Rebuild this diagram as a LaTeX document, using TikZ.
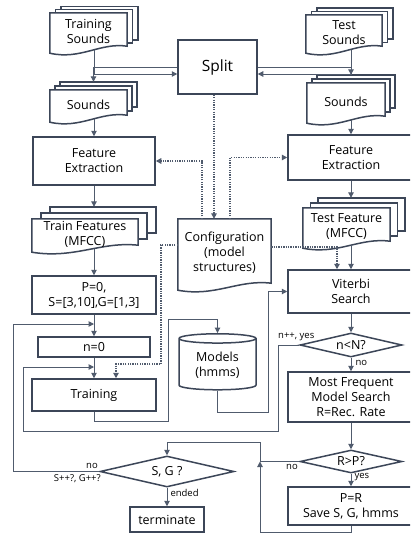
\documentclass[tikz,border=0pt]{standalone}
\usepackage{fontspec}
\setmainfont{Open Sans}
\usetikzlibrary{arrows.meta,calc,shapes.geometric}
\pgfdeclarelayer{background}
\pgfsetlayers{background,main}
\definecolor{bord}{RGB}{60,70,88}
\definecolor{lnk}{RGB}{80,91,109}
\newcommand{\docfront}[1]{%
  \filldraw[docline] (#1.north west) -- (#1.north east) -- ($(#1.south east)+(0,-4)$) .. controls ($(#1.south east)!0.35!(#1.south west)+(0,-8)$) and ($(#1.south west)!0.4!(#1.south east)+(0,10)$) .. ($(#1.south west)+(0,3)$) -- cycle;}
\newcommand{\mdoc}[3]{%
  \begin{pgfonlayer}{background}
    \foreach \k in {2,1}
      \filldraw[docline] ($(#1.north west)+(\k*#2,-\k*#3)$) rectangle ($(#1.south east)+(\k*#2,-\k*#3-4)$);
    \docfront{#1}
  \end{pgfonlayer}
  \coordinate (#1 top) at ($(#1.north)+(#2,-2*#3)$);}
\begin{document}
\begin{tikzpicture}[x=1pt,y=1pt,yscale=-1,
  font=\fontsize{12.5}{15}\selectfont,
  box/.style={draw=bord, line width=1.5pt, fill=white, inner sep=1pt, align=center},
  docn/.style={inner sep=1pt, align=center},
  docline/.style={draw=bord, line width=1.5pt, fill=white},
  dia/.style={diamond, draw=bord, line width=1.5pt, fill=white, inner sep=0pt, aspect=4},
  cyl/.style={cylinder, shape border rotate=90, aspect=0.2, draw=bord, line width=1.5pt, fill=white, align=center, inner sep=1pt},
  arr/.style={draw=lnk, line width=1pt, -{Triangle[length=5.5pt,width=5.5pt]}},
  darr/.style={arr, line width=1.3pt, dash pattern=on 1.3pt off 1.1pt},
  lbl/.style={font=\fontsize{9.5}{11}\selectfont, inner sep=0pt}]
\useasboundingbox (0,0) rectangle (410,533);
\clip (0,0) rectangle (410,533);
\begin{pgfonlayer}{background}
\fill[white] (0,0) rectangle (410,533);
\end{pgfonlayer}
\node[docn, minimum width=77pt, minimum height=37pt] (tsnd) at (88.5,31.5) {Training\\Sounds};
\mdoc{tsnd}{5.5}{3.2}
\node[docn, minimum width=76pt, minimum height=35pt] (tstsnd) at (344,32.5) {Test\\Sounds};
\mdoc{tstsnd}{5.5}{3.5}
\node[box, minimum width=79pt, minimum height=54pt, font=\fontsize{15.5}{18}\selectfont] (split) at (217.5,67) {Split};
\node[docn, minimum width=77pt, minimum height=29pt] (snd) at (88.5,104.5) {Sounds};
\mdoc{snd}{5}{4}
\node[docn, minimum width=78pt, minimum height=37pt] (snr) at (346,101.5) {Sounds};
\mdoc{snr}{5}{4}
\node[box, minimum width=122pt, minimum height=48pt] (fel) at (94,161) {Feature\\Extraction};
\node[box, minimum width=126pt, minimum height=45pt] (fer) at (351,157.5) {Feature\\Extraction};
\node[docn, minimum width=106pt, minimum height=30pt] (tfeat) at (85,234) {Train Features\\(MFCC)};
\mdoc{tfeat}{9}{6}
\node[docn, minimum width=87pt, minimum height=37pt] (tstfeat) at (346.5,226.5) {Test Feature\\(MFCC)};
\mdoc{tstfeat}{7.5}{5}
\node[docn, minimum width=93pt, minimum height=68pt] (cfg) at (224.5,253) {Configuration\\(model\\structures)};
\begin{pgfonlayer}{background}
\docfront{cfg}
\end{pgfonlayer}
\node[box, minimum width=124pt, minimum height=38pt] (p0) at (94,295) {P=0,\\S=[3,10],G=[1,3]};
\node[box, minimum width=112pt, minimum height=20pt] (n0) at (94,347) {n=0};
\node[box, minimum width=124pt, minimum height=32pt] (train) at (94,395) {Training};
\node[cyl, minimum width=77pt, minimum height=56pt] (models) at (217.5,365) {Models\\(hmms)};
\node[box, minimum width=126pt, minimum height=43pt] (vit) at (351,291.5) {Viterbi\\Search};
\node[dia, minimum width=102pt, minimum height=24pt] (nn) at (351,345) {n<N?};
\node[box, minimum width=126pt, minimum height=50pt] (mfm) at (351,397) {Most Frequent\\Model Search\\R=Rec. Rate};
\node[dia, minimum width=102pt, minimum height=23pt] (rp) at (351,461.5) {R>P?};
\node[box, minimum width=126pt, minimum height=38pt] (pr) at (351,506) {P=R\\Save S, G, hmms};
\node[dia, minimum width=134pt, minimum height=31pt] (sg) at (167,471.5) {S, G ?};
\node[box, minimum width=74pt, minimum height=25pt] (term) at (167,519.5) {terminate};
\coordinate (rb) at (260,532);
\coordinate (rt) at (260,442);
\coordinate (lx) at (13,324);
\coordinate (ya) at (278,431);
\coordinate (yb) at (23,367);
\coordinate (tm) at (168,319);
\coordinate (mv) at (268,412);
\coordinate (ct) at (161,364);
\draw[arr] (tsnd.south -| fel.north) |- ([yshift=7pt]split.west);
\draw[arr] (tstsnd.south -| fer.north) |- ([yshift=7pt]split.east);
\draw[arr] (split.west) -| (snd top);
\draw[arr] (split.east) -| (snr top);
\draw[arr] (fel.north |- snd.south) -- (fel.north);
\draw[arr] (fer.north |- snr.south) -- (fer.north);
\draw[arr] (fel.south) -- (tfeat top);
\draw[arr] (fer.south) -- (fer.south |- tstfeat top);
\draw[arr] (p0.north |- tfeat.south) -- (p0.north);
\draw[arr] (vit.north |- tstfeat.south) -- (vit.north);
\draw[arr] (p0.south) -- (n0.north);
\draw[arr] (n0.south) -- (train.north);
\draw[arr] (vit.south) -- (nn.north);
\draw[arr] (nn.south) -- node[lbl, right=4pt, pos=0.35] {no} (mfm.north);
\draw[arr] (mfm.south) -- (rp.north);
\draw[arr] (rp.south) -- node[lbl, right=3pt, pos=0.3] {yes} (pr.north);
\draw[arr] (sg.south) -- node[lbl, right=3pt, pos=0.3] {ended} (term.north);
\draw[arr] (pr.south) |- (rb) -- (rb |- rp.west);
\draw[arr] (rp.west) node[lbl, anchor=north east, xshift=-1pt, yshift=-2pt] {no} -| (rt) -| (sg.north);
\draw[arr] (sg.west) node[lbl, anchor=south east, xshift=-1pt, yshift=2pt] {no} node[lbl, anchor=north east, xshift=2pt, yshift=-3pt] {S++?, G++?} -| (lx) -- (lx -| n0.north);
\draw[arr] (nn.west) node[lbl, anchor=south, xshift=-3pt, yshift=4pt] {n++, yes} -| (ya) -| (yb) -- (yb -| train.north);
\draw[arr] (train.south) -- ++(0,10) -| (tm) -| (models.north);
\draw[arr] (models.south) |- (mv) |- (vit.west);
\draw[darr] ([xshift=-3.5pt]split.south) -- ([xshift=-3.5pt]split.south |- cfg.north);
\draw[darr] ([xshift=-22.5pt]cfg.north) |- (fel.east);
\draw[darr] ([xshift=5.5pt]cfg.north) |- (fer.west);
\draw[darr] ([yshift=-6pt]cfg.east) -| ([xshift=-14pt]vit.north);
\draw[darr] ([yshift=-8pt]cfg.west) -| (ct) -| ([xshift=22pt]train.north);
\end{tikzpicture}
\end{document}
